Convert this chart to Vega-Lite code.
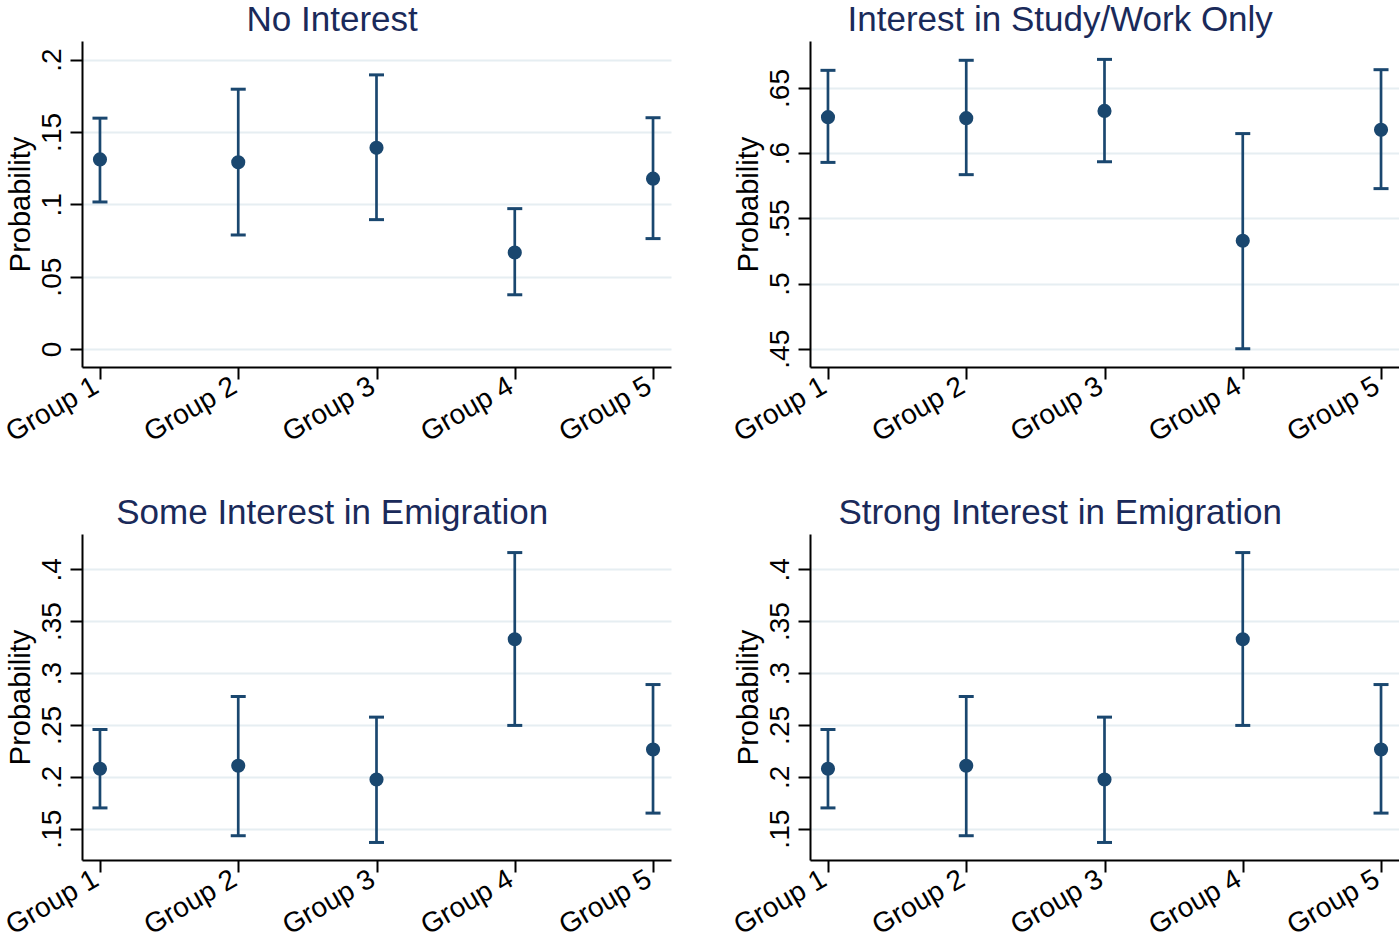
{
  "$schema": "https://vega.github.io/schema/vega-lite/v6.json",
  "padding": {"left": 1, "top": 3, "right": 0, "bottom": 0},
  "background": "white",
  "data": {"values": [
    {"panel": "NI", "group": "Group 1", "est": 0.1310, "lo": 0.1016, "hi": 0.1595},
    {"panel": "NI", "group": "Group 2", "est": 0.1290, "lo": 0.0788, "hi": 0.1795},
    {"panel": "NI", "group": "Group 3", "est": 0.1390, "lo": 0.0894, "hi": 0.1894},
    {"panel": "NI", "group": "Group 4", "est": 0.0667, "lo": 0.0375, "hi": 0.0970},
    {"panel": "NI", "group": "Group 5", "est": 0.1177, "lo": 0.0763, "hi": 0.1598},
    {"panel": "SW", "group": "Group 1", "est": 0.6276, "lo": 0.5929, "hi": 0.6635},
    {"panel": "SW", "group": "Group 2", "est": 0.6268, "lo": 0.5835, "hi": 0.6712},
    {"panel": "SW", "group": "Group 3", "est": 0.6324, "lo": 0.5934, "hi": 0.6719},
    {"panel": "SW", "group": "Group 4", "est": 0.5328, "lo": 0.4500, "hi": 0.6150},
    {"panel": "SW", "group": "Group 5", "est": 0.6179, "lo": 0.5728, "hi": 0.6640},
    {"panel": "SO", "group": "Group 1", "est": 0.2077, "lo": 0.1700, "hi": 0.2456},
    {"panel": "SO", "group": "Group 2", "est": 0.2106, "lo": 0.1432, "hi": 0.2774},
    {"panel": "SO", "group": "Group 3", "est": 0.1974, "lo": 0.1367, "hi": 0.2575},
    {"panel": "SO", "group": "Group 4", "est": 0.3326, "lo": 0.2495, "hi": 0.4161},
    {"panel": "SO", "group": "Group 5", "est": 0.2263, "lo": 0.1650, "hi": 0.2889},
    {"panel": "ST", "group": "Group 1", "est": 0.2077, "lo": 0.1700, "hi": 0.2456},
    {"panel": "ST", "group": "Group 2", "est": 0.2106, "lo": 0.1432, "hi": 0.2774},
    {"panel": "ST", "group": "Group 3", "est": 0.1974, "lo": 0.1367, "hi": 0.2575},
    {"panel": "ST", "group": "Group 4", "est": 0.3326, "lo": 0.2495, "hi": 0.4161},
    {"panel": "ST", "group": "Group 5", "est": 0.2263, "lo": 0.1650, "hi": 0.2889}
  ]},
  "columns": 2,
  "spacing": {"row": 167, "column": 139},
  "bounds": "flush",
  "concat": [
    {
      "width": 589, "height": 326,
      "title": "No Interest",
      "transform": [{"filter": "datum.panel == 'NI'"}],
      "encoding": {"x": {"field": "group", "type": "ordinal", "title": null, "scale": {"type": "point", "padding": 0.13}}},
      "layer": [
        {"mark": {"type": "rule", "color": "#1a476f", "strokeWidth": 2.7},
         "encoding": {"y": {"field": "lo", "type": "quantitative", "title": "Probability", "scale": {"domain": [-0.0124, 0.2128], "nice": false, "zero": false},
           "axis": {"values": [0, 0.05, 0.1, 0.15, 0.2], "labelExpr": "datum.value == 0 ? '0' : substring(format(datum.value, '.2~f'), 1)"}},
           "y2": {"field": "hi"}}},
        {"mark": {"type": "tick", "color": "#1a476f", "size": 15, "thickness": 3, "opacity": 1},
         "encoding": {"y": {"field": "lo", "type": "quantitative", "title": "Probability"}}},
        {"mark": {"type": "tick", "color": "#1a476f", "size": 15, "thickness": 3, "opacity": 1},
         "encoding": {"y": {"field": "hi", "type": "quantitative", "title": "Probability"}}},
        {"mark": {"type": "point", "filled": true, "color": "#1a476f", "size": 200, "opacity": 1},
         "encoding": {"y": {"field": "est", "type": "quantitative", "title": "Probability"}}}
      ]
    },
    {
      "width": 589, "height": 326,
      "title": "Interest in Study/Work Only",
      "transform": [{"filter": "datum.panel == 'SW'"}],
      "encoding": {"x": {"field": "group", "type": "ordinal", "title": null, "scale": {"type": "point", "padding": 0.13}}},
      "layer": [
        {"mark": {"type": "rule", "color": "#1a476f", "strokeWidth": 2.7},
         "encoding": {"y": {"field": "lo", "type": "quantitative", "title": "Probability", "scale": {"domain": [0.436, 0.686], "nice": false, "zero": false},
           "axis": {"values": [0.45, 0.5, 0.55, 0.6, 0.65], "labelExpr": "datum.value == 0 ? '0' : substring(format(datum.value, '.2~f'), 1)"}},
           "y2": {"field": "hi"}}},
        {"mark": {"type": "tick", "color": "#1a476f", "size": 15, "thickness": 3, "opacity": 1},
         "encoding": {"y": {"field": "lo", "type": "quantitative", "title": "Probability"}}},
        {"mark": {"type": "tick", "color": "#1a476f", "size": 15, "thickness": 3, "opacity": 1},
         "encoding": {"y": {"field": "hi", "type": "quantitative", "title": "Probability"}}},
        {"mark": {"type": "point", "filled": true, "color": "#1a476f", "size": 200, "opacity": 1},
         "encoding": {"y": {"field": "est", "type": "quantitative", "title": "Probability"}}}
      ]
    },
    {
      "width": 589, "height": 326,
      "title": "Some Interest in Emigration",
      "transform": [{"filter": "datum.panel == 'SO'"}],
      "encoding": {"x": {"field": "group", "type": "ordinal", "title": null, "scale": {"type": "point", "padding": 0.13}}},
      "layer": [
        {"mark": {"type": "rule", "color": "#1a476f", "strokeWidth": 2.7},
         "encoding": {"y": {"field": "lo", "type": "quantitative", "title": "Probability", "scale": {"domain": [0.1198, 0.434], "nice": false, "zero": false},
           "axis": {"values": [0.15, 0.2, 0.25, 0.3, 0.35, 0.4], "labelExpr": "datum.value == 0 ? '0' : substring(format(datum.value, '.2~f'), 1)"}},
           "y2": {"field": "hi"}}},
        {"mark": {"type": "tick", "color": "#1a476f", "size": 15, "thickness": 3, "opacity": 1},
         "encoding": {"y": {"field": "lo", "type": "quantitative", "title": "Probability"}}},
        {"mark": {"type": "tick", "color": "#1a476f", "size": 15, "thickness": 3, "opacity": 1},
         "encoding": {"y": {"field": "hi", "type": "quantitative", "title": "Probability"}}},
        {"mark": {"type": "point", "filled": true, "color": "#1a476f", "size": 200, "opacity": 1},
         "encoding": {"y": {"field": "est", "type": "quantitative", "title": "Probability"}}}
      ]
    },
    {
      "width": 589, "height": 326,
      "title": "Strong Interest in Emigration",
      "transform": [{"filter": "datum.panel == 'ST'"}],
      "encoding": {"x": {"field": "group", "type": "ordinal", "title": null, "scale": {"type": "point", "padding": 0.13}}},
      "layer": [
        {"mark": {"type": "rule", "color": "#1a476f", "strokeWidth": 2.7},
         "encoding": {"y": {"field": "lo", "type": "quantitative", "title": "Probability", "scale": {"domain": [0.1198, 0.434], "nice": false, "zero": false},
           "axis": {"values": [0.15, 0.2, 0.25, 0.3, 0.35, 0.4], "labelExpr": "datum.value == 0 ? '0' : substring(format(datum.value, '.2~f'), 1)"}},
           "y2": {"field": "hi"}}},
        {"mark": {"type": "tick", "color": "#1a476f", "size": 15, "thickness": 3, "opacity": 1},
         "encoding": {"y": {"field": "lo", "type": "quantitative", "title": "Probability"}}},
        {"mark": {"type": "tick", "color": "#1a476f", "size": 15, "thickness": 3, "opacity": 1},
         "encoding": {"y": {"field": "hi", "type": "quantitative", "title": "Probability"}}},
        {"mark": {"type": "point", "filled": true, "color": "#1a476f", "size": 200, "opacity": 1},
         "encoding": {"y": {"field": "est", "type": "quantitative", "title": "Probability"}}}
      ]
    }
  ],
  "config": {
    "view": {"stroke": null},
    "font": "Liberation Sans",
    "axis": {
      "domainColor": "#000000", "domainWidth": 2,
      "tickColor": "#000000", "tickWidth": 2, "tickSize": 12,
      "labelColor": "#000000", "labelFontSize": 28, "labelFont": "Liberation Sans",
      "titleColor": "#000000", "titleFontSize": 29, "titleFontWeight": "normal", "titleFont": "Liberation Sans",
      "gridColor": "#e6eef2", "gridWidth": 2, "labelOverlap": false
    },
    "axisX": {"grid": false, "labelAngle": -30, "labelAlign": "right", "labelBaseline": "top", "labelPadding": -7, "labelOffset": -11},
    "axisY": {"grid": true, "labelAngle": -90, "labelAlign": "center", "labelBaseline": "bottom", "labelPadding": 4, "titlePadding": 3},
    "title": {"fontSize": 35, "color": "#1a2a5a", "fontWeight": "normal", "font": "Liberation Sans", "anchor": "middle", "frame": "bounds", "offset": 3, "dx": -4}
  }
}
